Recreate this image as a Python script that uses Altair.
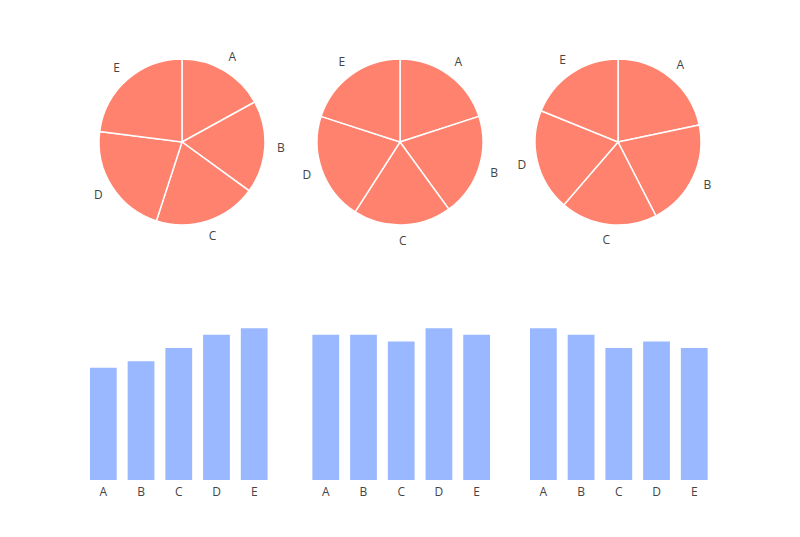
import altair as alt
import pandas as pd

cats = ["A", "B", "C", "D", "E"]
series1 = [17, 18, 20, 22, 23]
series2 = [22, 22, 21, 23, 22]
series3 = [23, 22, 20, 21, 20]
all_series = [series1, series2, series3]
bar_aligns = [0.42, 0.53, 0.52]

PIE_COLOR = "#ff826e"
BAR_COLOR = "#99b8ff"
TEXT_COLOR = "#444444"
FONT = "Open Sans"


def pie(vals):
    df = pd.DataFrame({"cat": cats, "value": vals})
    base = alt.Chart(df).encode(
        theta=alt.Theta("value:Q", stack=True),
        detail="cat:N",
        order=alt.Order("cat:N", sort="ascending"),
    )
    arcs = base.mark_arc(outerRadius=83, color=PIE_COLOR, stroke="white", strokeWidth=1.5)
    labels = base.mark_text(radius=99, fontSize=12, font=FONT, color=TEXT_COLOR).encode(
        text="cat:N"
    )
    return (arcs + labels).properties(width=218, height=218)


def bars(vals, align):
    df = pd.DataFrame({"cat": cats, "value": vals})
    return (
        alt.Chart(df)
        .mark_bar(color=BAR_COLOR)
        .encode(
            x=alt.X(
                "cat:N",
                title=None,
                scale=alt.Scale(paddingInner=0.29, paddingOuter=0.535, align=align),
                axis=alt.Axis(
                    labelAngle=0,
                    ticks=False,
                    domain=False,
                    labelPadding=6,
                    labelFont=FONT,
                    labelFontSize=12,
                    labelColor=TEXT_COLOR,
                ),
            ),
            y=alt.Y("value:Q", scale=alt.Scale(domain=[0, 25], nice=False), axis=None),
        )
        .properties(width=218, height=165)
    )


top = alt.hconcat(*[pie(s) for s in all_series], spacing=0)
bottom = alt.hconcat(*[bars(s, a) for s, a in zip(all_series, bar_aligns)], spacing=0)

chart = (
    alt.vconcat(top, bottom, spacing=64)
    .properties(padding={"left": 65, "top": 25, "right": 20, "bottom": 20})
    .configure_view(strokeWidth=0)
)

chart.save("out.html", embed_options={"renderer": "svg", "actions": False})
